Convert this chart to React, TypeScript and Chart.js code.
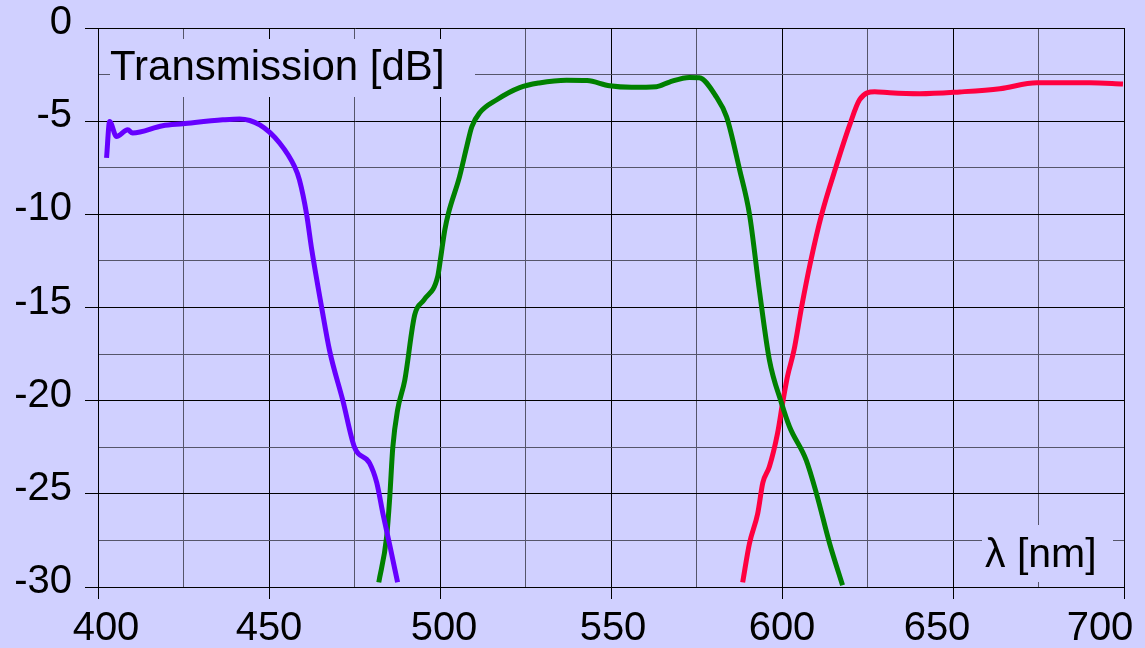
import React, { useEffect, useRef } from "react";
import { Chart, registerables } from "chart.js";

Chart.register(...registerables);

const xTicksMin = 400;
const xTicksMax = 700;
const yTicksMin = -30;
const yTicksMax = 0;

const blueNm = [402.5, 403.4, 405.4, 408.7, 410.1, 418.9, 424.8, 436.5, 441.4, 447.3, 453.1, 457.5, 458.9, 461, 462.5, 465.4, 467.7, 471.6, 475, 479.4, 481.5, 483.3, 485.3, 487.6];
const blueDb = [-6.97, -5.02, -5.82, -5.46, -5.64, -5.25, -5.14, -4.93, -4.88, -5.2, -6.17, -7.45, -8.15, -10, -11.9, -15, -17.3, -20, -22.5, -23.35, -24.4, -26.05, -27.75, -29.75];

const greenNm = [482.1, 484.4, 485.3, 486.2, 487.6, 489.7, 492.6, 495.3, 499.3, 500.1, 501.4, 502.5, 505.7, 507.8, 509.3, 511.6, 516.6, 523.3, 529, 537, 543, 549.6, 556, 563.3, 567.1, 572.9, 575.8, 580.8, 583.8, 587.6, 590.5, 593.4, 596.3, 599.8, 602.2, 607.1, 610.1, 613.9, 617.7];
const greenDb = [-29.75, -27.3, -25.2, -22.5, -20.5, -18.9, -15.4, -14.6, -13.36, -12.45, -10.84, -9.92, -7.99, -6.38, -5.3, -4.55, -3.85, -3.2, -2.95, -2.8, -2.82, -3.1, -3.18, -3.15, -2.9, -2.65, -2.67, -3.7, -4.77, -7.6, -10, -14.1, -17.8, -20.1, -21.4, -23.2, -25, -27.65, -29.9];

const redNm = [588.5, 590.5, 592.9, 594.4, 596.3, 598.7, 600.2, 601.6, 603.5, 605.7, 608.4, 611.6, 615.7, 619.8, 622.7, 627.1, 631.5, 640.3, 652, 663.7, 674.5, 690, 699.7];
const redDb = [-29.75, -27.65, -26.05, -24.4, -23.55, -21.75, -20.1, -18.7, -17.3, -15, -12.5, -10, -7.5, -5.2, -3.85, -3.42, -3.48, -3.53, -3.43, -3.26, -2.94, -2.94, -3.0];

const yTitle = "Transmission [dB]";
const xTitle = "λ [nm]";

const BG = "#d0d0ff";
const FONT = "'Liberation Sans', Arial, sans-serif";
// small horizontal nudges of individual x tick labels (style only)
const xLabelShift: Record<number, number> = { 400: 8, 500: 4, 550: 2, 650: -16, 700: -24 };

const toPoints = (xs: number[], ys: number[]) => xs.map((x, i) => ({ x, y: ys[i] }));

const overlayPlugin = {
  id: "overlay",
  beforeDraw(chart: any) {
    const { ctx, width, height } = chart;
    ctx.save();
    ctx.fillStyle = BG;
    ctx.fillRect(0, 0, width, height);
    ctx.restore();
    const xs = chart.scales.x;
    if (xs && xs.getLabelItems) {
      const items = xs.getLabelItems();
      if (!xs._shifted) {
        items.forEach((it: any, i: number) => {
          const t = xs.ticks[i];
          const d = t ? xLabelShift[t.value] || 0 : 0;
          if (d && it.options && it.options.translation) it.options.translation[0] += d;
        });
        xs._shifted = true;
      }
    }
  },
  beforeDatasetsDraw(chart: any) {
    const { ctx } = chart;
    ctx.save();
    ctx.fillStyle = BG;
    ctx.fillRect(110, 39, 365, 58);
    ctx.fillRect(982, 525, 131, 57);
    ctx.fillStyle = "#000";
    ctx.textBaseline = "alphabetic";
    ctx.textAlign = "left";
    ctx.font = `42px ${FONT}`;
    ctx.fillText(yTitle, 110, 80);
    ctx.font = `41px ${FONT}`;
    ctx.fillText(xTitle, 985, 567);
    ctx.restore();
  },
};

export default function App() {
  const ref = useRef<HTMLCanvasElement>(null);
  useEffect(() => {
    document.body.style.margin = "0";
    document.body.style.background = BG;
    const canvas = ref.current!;
    const major = (step: number) => (c: any) => c.tick && Math.abs(c.tick.value % step) < 1e-6;
    const xMajor = major(50);
    const yMajor = major(5);
    const chart = new Chart(canvas, {
      type: "line",
      data: {
        datasets: [
          { data: toPoints(blueNm, blueDb), borderColor: "#6600ff", borderWidth: 5 },
          { data: toPoints(greenNm, greenDb), borderColor: "#008000", borderWidth: 5 },
          { data: toPoints(redNm, redDb), borderColor: "#ff0040", borderWidth: 5 },
        ] as any,
      },
      options: {
        animation: false,
        responsive: false,
        devicePixelRatio: 1,
        layout: { padding: { top: 28, right: 21, left: 0, bottom: 0 } },
        elements: {
          point: { radius: 0 },
          line: { cubicInterpolationMode: "monotone", borderCapStyle: "butt" },
        },
        plugins: { legend: { display: false }, tooltip: { enabled: false } },
        scales: {
          x: {
            type: "linear",
            min: xTicksMin,
            max: xTicksMax,
            afterFit: (s: any) => {
              s.height = 61;
              s.paddingLeft = 0;
              s.paddingRight = 0;
            },
            border: { display: true, color: "#000", width: 1 },
            grid: {
              color: (c: any) => (xMajor(c) ? "#000" : "#55556a"),
              tickColor: (c: any) => (xMajor(c) ? "#000" : "rgba(0,0,0,0)"),
              tickLength: 12,
              lineWidth: 1,
            },
            ticks: {
              stepSize: 25,
              autoSkip: false,
              maxRotation: 0,
              padding: 10,
              color: "#000",
              font: { family: FONT, size: 40, lineHeight: 1 },
              callback: (v: any) => (Number(v) % 50 === 0 ? String(v) : ""),
            },
          },
          y: {
            type: "linear",
            min: yTicksMin,
            max: yTicksMax,
            afterFit: (s: any) => {
              s.width = 98;
              s.paddingTop = 0;
              s.paddingBottom = 0;
            },
            border: { display: true, color: "#000", width: 1 },
            grid: {
              color: (c: any) => (yMajor(c) ? "#000" : "#55556a"),
              tickColor: (c: any) => (yMajor(c) ? "#000" : "rgba(0,0,0,0)"),
              tickLength: 13,
              lineWidth: 1,
            },
            ticks: {
              stepSize: 2.5,
              autoSkip: false,
              padding: 13,
              labelOffset: -5,
              color: "#000",
              font: { family: FONT, size: 40, lineHeight: 1 },
              callback: (v: any) => (Math.abs(Number(v) % 5) < 1e-6 ? String(v) : ""),
            },
          },
        },
      } as any,
      plugins: [overlayPlugin],
    });
    return () => chart.destroy();
  }, []);
  return (
    <div style={{ position: "absolute", left: 0, top: 0, width: 1145, height: 648 }}>
      <canvas ref={ref} width={1145} height={648} style={{ width: 1145, height: 648, display: "block" }} />
    </div>
  );
}
